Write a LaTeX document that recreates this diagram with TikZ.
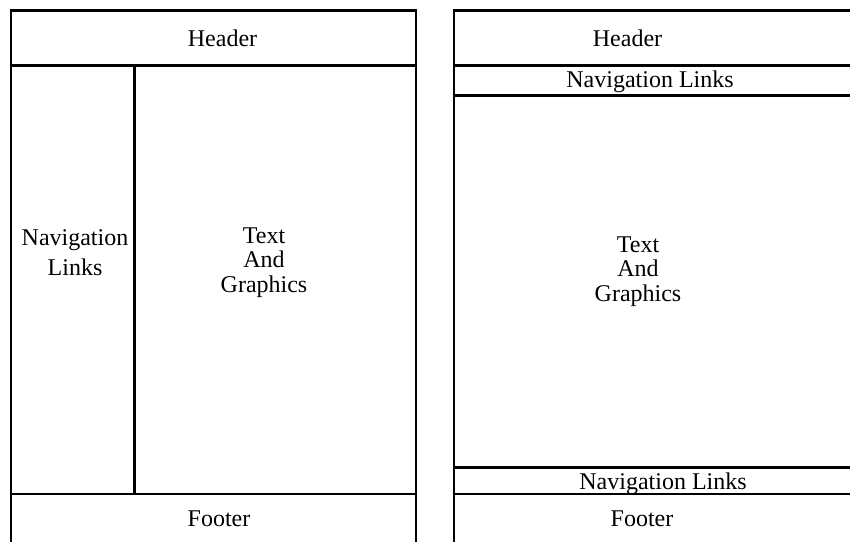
\documentclass[tikz,border=0pt]{standalone}
\usepackage{fontspec}
\setmainfont{Liberation Serif}
\begin{document}
\begin{tikzpicture}[x=0.75pt,y=-0.75pt,
  frame/.style={line width=1.8pt,black},
  lbl/.style={inner sep=0pt,anchor=base,font=\fontsize{18}{21}\selectfont}]
\path[use as bounding box,clip] (0,0) rectangle (850,542);
\fill[white] (0,0) rectangle (850,542);
% left layout
\coordinate (LTL) at (11,10.5);
\coordinate (LTR) at (416,10.5);
\coordinate (LBL) at (11,548);
\coordinate (LBR) at (416,548);
\coordinate (LH1) at (11,65.5);
\coordinate (LH2) at (416,65.5);
\coordinate (LV1) at (134.5,65.5);
\coordinate (LV2) at (134.5,494);
\coordinate (LF1) at (11,494);
\coordinate (LF2) at (416,494);
\draw[frame] (LBL) -- (LTL) -- (LTR) -- (LBR);
\draw[frame] (LH1) -- (LH2);
\draw[frame] (LV1) -- (LV2);
\draw[frame] (LF1) -- (LF2);
% right layout
\coordinate (RTL) at (454,10.5);
\coordinate (RTR) at (860,10.5);
\coordinate (RBL) at (454,548);
\coordinate (RH1) at (454,65.5);
\coordinate (RH2) at (860,65.5);
\coordinate (RN1) at (454,95.5);
\coordinate (RN2) at (860,95.5);
\coordinate (RB1) at (454,467.5);
\coordinate (RB2) at (860,467.5);
\coordinate (RF1) at (454,494);
\coordinate (RF2) at (860,494);
\draw[frame] (RBL) -- (RTL) -- (RTR);
\draw[frame] (RH1) -- (RH2);
\draw[frame] (RN1) -- (RN2);
\draw[frame] (RB1) -- (RB2);
\draw[frame] (RF1) -- (RF2);
% left labels
\node[lbl] (lhead) at (222.5,47) {Header};
\node[lbl] (lnav1) at (75,245) {Navigation};
\node[lbl] (lnav2) at (75,275) {Links};
\node[lbl] (ltxt1) at (264,243) {Text};
\node[lbl] (ltxt2) at (264,267.5) {And};
\node[lbl] (ltxt3) at (264,292) {Graphics};
\node[lbl] (lfoot) at (219,526) {Footer};
% right labels
\node[lbl] (rhead) at (627.5,47) {Header};
\node[lbl] (rnav) at (650,88) {Navigation Links};
\node[lbl] (rtxt1) at (638,252) {Text};
\node[lbl] (rtxt2) at (638,276.5) {And};
\node[lbl] (rtxt3) at (638,301) {Graphics};
\node[lbl] (rnavb) at (663,489.5) {Navigation Links};
\node[lbl] (rfoot) at (642,526) {Footer};
\end{tikzpicture}
\end{document}
